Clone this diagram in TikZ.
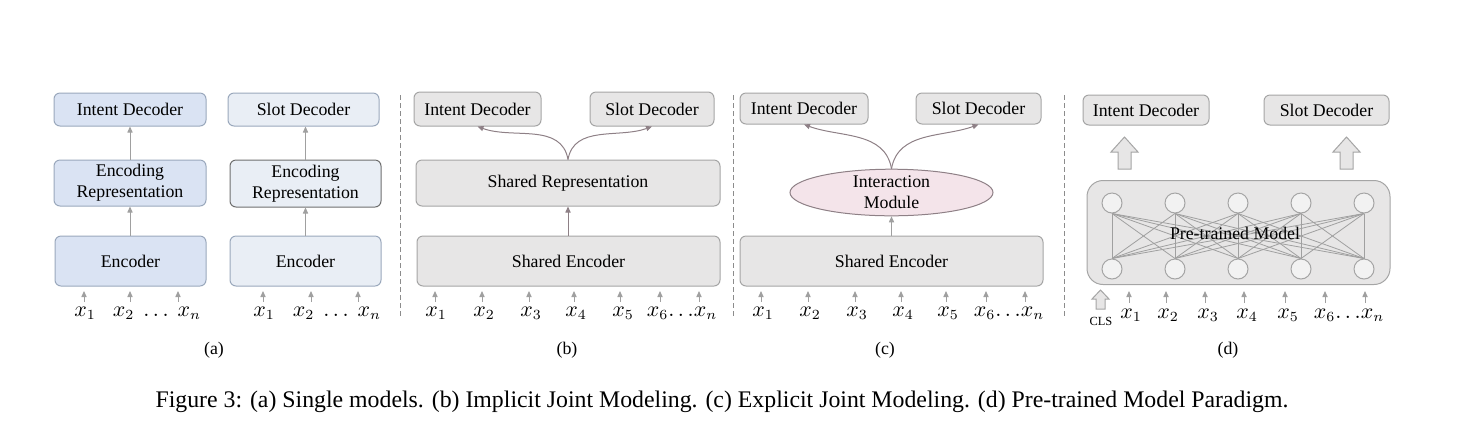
\documentclass[tikz,border=0pt]{standalone}
\usepackage{fontspec}
\setmainfont{Liberation Serif}
\usetikzlibrary{arrows.meta,shapes.geometric}
\definecolor{bluefill}{HTML}{DAE3F3}
\definecolor{bluedraw}{HTML}{9AA8BC}
\definecolor{palefill}{HTML}{E9EEF5}
\definecolor{grayfill}{HTML}{E7E6E6}
\definecolor{graydraw}{HTML}{A5A5A5}
\definecolor{darkdraw}{HTML}{6F6F6F}
\definecolor{arrgray}{HTML}{A0A0A0}
\definecolor{mauve}{HTML}{8E8086}
\definecolor{pinkfill}{HTML}{F4E4EA}
\definecolor{circfill}{HTML}{F2F2F2}
\begin{document}
\begin{tikzpicture}[x=0.5pt,y=-0.5pt,
  every node/.style={font=\fontsize{8.9}{10.5}\selectfont},
  box/.style={draw=graydraw, line width=0.5pt, rounded corners=3pt, align=center, inner sep=0pt},
  bluebox/.style={box, fill=bluefill, draw=bluedraw},
  palebox/.style={box, fill=palefill, draw=bluedraw},
  graybox/.style={box, fill=grayfill},
  up/.style={-{Triangle[length=3pt,width=2.6pt]}, draw=arrgray, line width=0.5pt},
  mup/.style={-{Triangle[length=3pt,width=2.6pt]}, draw=mauve, line width=0.5pt},
  inlab/.style={anchor=base, inner sep=0pt, font=\fontsize{10.5}{12}\selectfont},
  sep/.style={draw=darkdraw!80, line width=0.4pt, dash pattern=on 2.5pt off 1.5pt},
  net/.style={draw=arrgray, line width=0.4pt},
  circ/.style={circle, draw=graydraw, fill=circfill, line width=0.5pt, minimum size=10pt, inner sep=0pt},
  blockarr/.style={draw=graydraw, fill=grayfill, line width=0.5pt, line join=miter}
]
\useasboundingbox (0,0) rectangle (1458,441);

% ---------------- panel (a)
\node[bluebox, minimum width=76pt, minimum height=16.5pt] (ia) at (130,109.5) {Intent Decoder};
\node[bluebox, minimum width=76pt, minimum height=23pt] (era) at (130,183) {Encoding\\Representation};
\node[bluebox, minimum width=75.5pt, minimum height=25pt] (ea) at (130.5,261) {Encoder};
\node[palebox, minimum width=75.5pt, minimum height=16.5pt] (sa) at (303.5,109.5) {Slot Decoder};
\node[palebox, draw=darkdraw, minimum width=75.5pt, minimum height=23.5pt] (ersa) at (305.5,183.5) {Encoding\\Representation};
\node[palebox, minimum width=75.5pt, minimum height=25pt] (esa) at (305.5,261) {Encoder};
\draw[up] (ea.north -| era.south) -- (era.south);
\draw[up] (era.north) -- (ia.south);
\draw[up] (esa.north) -- (ersa.south);
\draw[up] (ersa.north) -- (ersa.north |- sa.south);

\node[inlab] (a1) at (85,316) {$x_1$};
\node[inlab] (a2n) at (157,316) {$x_2\ \ldots\ x_n$};
\node[inlab] (s1) at (264,316) {$x_1$};
\node[inlab] (s2n) at (337,316) {$x_2\ \ldots\ x_n$};
\foreach \n/\x in {pa1/84, pa2/130, pan/178, ps1/263, ps2/311, psn/358}{
  \coordinate (\n) at (\x,302);
  \draw[up] (\n) -- ++(0,-11);
}
\node (la) at (214,350) {(a)};

\draw[sep] (400,95) -- (400,316);

% ---------------- panel (b)
\node[graybox, minimum width=63.5pt, minimum height=17pt] (ib) at (477.5,109) {Intent Decoder};
\node[graybox, minimum width=62pt, minimum height=17pt] (sb) at (652,109) {Slot Decoder};
\node[graybox, minimum width=152pt, minimum height=23pt] (srb) at (568,183) {Shared Representation};
\node[graybox, minimum width=151.5pt, minimum height=25pt] (seb) at (568.5,261) {Shared Encoder};
\draw[mup] (seb.north -| srb.south) -- (srb.south);
\draw[mup] (srb.north) to[out=100, in=-20] (ib.south);
\draw[mup] (srb.north) to[out=80, in=200] (sb.south);
\foreach \n/\x/\l in {b1/436/x_1, b2/484/x_2, b3/531/x_3, b4/576/x_4, b5/623/x_5}{
  \node[inlab] (\n) at (\x,316) {$\l$};
}
\node[inlab] (b6n) at (682,316) {$x_6{\ldots}x_n$};
\foreach \n/\x in {pb1/435, pb2/482, pb3/529, pb4/574, pb5/620, pb6/660, pbn/699}{
  \coordinate (\n) at (\x,302);
  \draw[up] (\n) -- ++(0,-11);
}
\node (lb) at (567,350) {(b)};

\draw[sep] (733,95) -- (733,316);

% ---------------- panel (c)
\node[graybox, minimum width=64pt, minimum height=15.5pt] (ic) at (804,108.5) {Intent Decoder};
\node[graybox, minimum width=62.5pt, minimum height=15.5pt] (sc) at (978.5,108.5) {Slot Decoder};
\node[ellipse, draw=mauve, fill=pinkfill, line width=0.5pt, minimum width=101.5pt, minimum height=20.5pt, inner sep=0pt, align=center] (imc) at (891.5,192.5) {Interaction\\Module};
\node[graybox, minimum width=151.5pt, minimum height=25pt] (sec) at (891.5,261) {Shared Encoder};
\draw[up] (sec.north) -- (imc.south);
\draw[mup] (imc.north) to[out=100, in=-20] (ic.south);
\draw[mup] (imc.north) to[out=80, in=200] (sc.south);
\foreach \n/\x/\l in {c1/763/x_1, c2/810/x_2, c3/857/x_3, c4/903/x_4, c5/948/x_5}{
  \node[inlab] (\n) at (\x,316) {$\l$};
}
\node[inlab] (c6n) at (1009,316) {$x_6{\ldots}x_n$};
\foreach \n/\x in {pc1/761, pc2/808, pc3/855, pc4/901, pc5/946, pc6/986, pcn/1025}{
  \coordinate (\n) at (\x,302);
  \draw[up] (\n) -- ++(0,-11);
}
\node (lc) at (885,350) {(c)};

\draw[sep] (1064,95) -- (1064,316);

% ---------------- panel (d)
\node[graybox, minimum width=63pt, minimum height=15pt] (id) at (1146,110) {Intent Decoder};
\node[graybox, minimum width=62.5pt, minimum height=15pt] (sd) at (1326.5,110) {Slot Decoder};
\node[graybox, rounded corners=8pt, minimum width=151.5pt, minimum height=52pt] (ptm) at (1238.5,232.5) {};
\foreach \i/\x in {1/1112,2/1175,3/1238,4/1301,5/1364}{
  \node[circ] (t\i) at (\x,203) {};
  \node[circ] (b\i) at (\x,269) {};
}
\foreach \i in {1,...,5}{
  \foreach \j in {1,...,5}{
    \draw[net] (t\i.south) -- (b\j.north);
  }
}
\node (ptl) at (1235,233) {Pre-trained Model};
% block arrows
\draw[blockarr] (1118,169) -- (1118,152) -- (1111,152) -- (1124.5,137) -- (1138,152) -- (1131,152) -- (1131,169) -- cycle;
\draw[blockarr] (1340,169) -- (1340,152) -- (1333,152) -- (1346.5,137) -- (1360,152) -- (1353,152) -- (1353,169) -- cycle;
\draw[blockarr] (1096,309) -- (1096,299) -- (1092,299) -- (1100.5,290) -- (1109,299) -- (1105,299) -- (1105,309) -- cycle;
\node[font=\fontsize{6.2}{7}\selectfont] (cls) at (1101,321) {CLS};
\foreach \n/\x/\l in {d1/1131/x_1, d2/1168/x_2, d3/1208/x_3, d4/1247/x_4, d5/1288/x_5}{
  \node[inlab] (\n) at (\x,318) {$\l$};
}
\node[inlab] (d6n) at (1349,318) {$x_6{\ldots}x_n$};
\foreach \n/\x in {pd1/1129, pd2/1166, pd3/1205, pd4/1244, pd5/1285, pd6/1325, pdn/1365}{
  \coordinate (\n) at (\x,303);
  \draw[up] (\n) -- ++(0,-12);
}
\node (ld) at (1228,350) {(d)};

% caption
\node[font=\fontsize{11.9}{14}\selectfont] (cap) at (722,402) {Figure 3: (a) Single models. (b) Implicit Joint Modeling. (c) Explicit Joint Modeling. (d) Pre-trained Model Paradigm.};
\end{tikzpicture}
\end{document}
